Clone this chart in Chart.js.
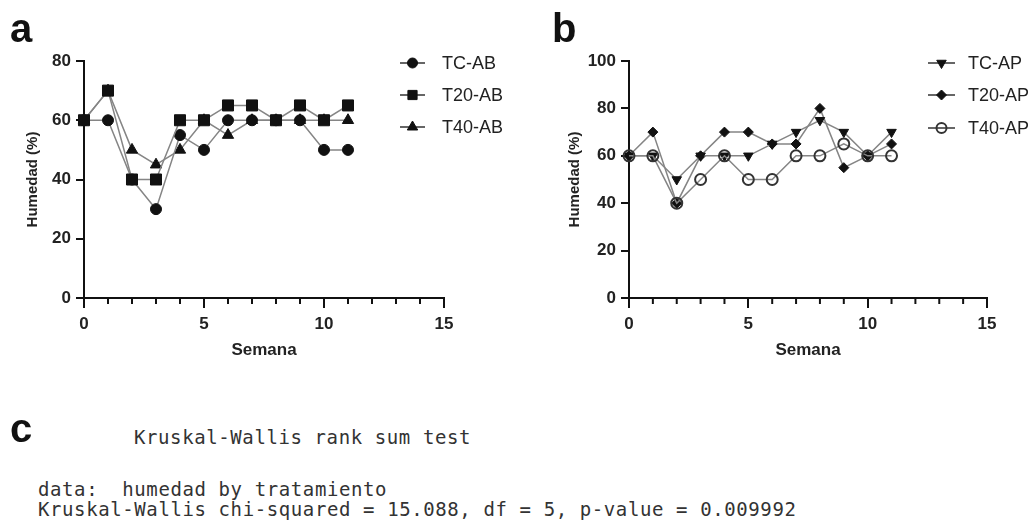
<!DOCTYPE html>
<html>
<head>
<meta charset="utf-8">
<script src="https://cdn.jsdelivr.net/npm/chart.js@4"></script>
<style>
  body { margin: 0; background: #fff; }
  #wrap { position: relative; width: 1034px; height: 521px; overflow: hidden; }
  canvas { position: absolute; top: 0; }
  .panel { position: absolute; font: bold 40px "Liberation Sans", Arial, sans-serif; line-height: 40px; color: #111; }
  .mono { position: absolute; font: 19px "DejaVu Sans Mono", monospace; line-height: 19px; letter-spacing: 0.6px; color: #333; white-space: pre; }
</style>
</head>
<body>
<div id="wrap">
  <canvas id="chartA" width="517" height="380" style="left:0"></canvas>
  <canvas id="chartB" width="517" height="380" style="left:517px"></canvas>
  <div class="panel" style="left:10px; top:8px">a</div>
  <div class="panel" style="left:552px; top:8px">b</div>
  <div class="panel" style="left:10px; top:408px">c</div>
  <div class="mono" style="left:134px; top:428px">Kruskal-Wallis rank sum test</div>
  <div class="mono" style="left:38px; top:480px">data:  humedad by tratamiento</div>
  <div class="mono" style="left:38px; top:500px">Kruskal-Wallis chi-squared = 15.088, df = 5, p-value = 0.009992</div>
</div>
<script>
// weeks (Semana)
const weeks = [0, 1, 2, 3, 4, 5, 6, 7, 8, 9, 10, 11];

// panel a: humedad (%) AB
const tcAB  = [60, 60, 40, 30, 55, 50, 60, 60, 60, 60, 50, 50];
const t20AB = [60, 70, 40, 40, 60, 60, 65, 65, 60, 65, 60, 65];
const t40AB = [60, 70, 50, 45, 50, 60, 55, 60, 60, 60, 60, 60];

// panel b: humedad (%) AP
const tcAP  = [60, 60, 50, 60, 60, 60, 65, 70, 75, 70, 60, 70];
const t20AP = [60, 70, 40, 60, 70, 70, 65, 65, 80, 55, 60, 65];
const t40AP = [60, 60, 40, 50, 60, 50, 50, 60, 60, 65, 60, 60];

const xTicksMajor = [0, 5, 10, 15];

Chart.defaults.font.family = '"Liberation Sans", Arial, sans-serif';
Chart.defaults.color = '#222';

const pts = vals => weeks.map((w, i) => ({ x: w, y: vals[i] }));

function series(label, vals, style, extra) {
  return Object.assign({
    label: label,
    data: pts(vals),
    showLine: true,
    borderColor: '#858585',
    borderWidth: 1.5,
    pointStyle: style,
    pointBackgroundColor: '#111',
    pointBorderColor: '#111',
    pointBorderWidth: 1,
    clip: false
  }, extra);
}

// legend with line + marker, like the original
const lineLegend = {
  id: 'lineLegend',
  afterDraw(chart, args, opts) {
    const ctx = chart.ctx;
    chart.data.datasets.forEach((ds, i) => {
      const y = opts.y[i];
      const cx = (opts.x0 + opts.x1) / 2;
      ctx.save();
      ctx.strokeStyle = '#333';
      ctx.lineWidth = 1.5;
      ctx.beginPath();
      ctx.moveTo(opts.x0, y);
      ctx.lineTo(opts.x1, y);
      ctx.stroke();
      ctx.fillStyle = ds.pointBackgroundColor;
      ctx.strokeStyle = ds.pointBorderColor;
      ctx.lineWidth = ds.pointBorderWidth;
      Chart.helpers.drawPoint(ctx, {
        pointStyle: ds.pointStyle,
        rotation: ds.pointRotation || 0,
        radius: ds.legendRadius,
        borderWidth: ds.pointBorderWidth
      }, cx, y);
      ctx.fillStyle = '#222';
      ctx.font = '18px "Liberation Sans", Arial, sans-serif';
      ctx.textBaseline = 'middle';
      ctx.fillText(ds.label, opts.tx, y + 1);
      ctx.restore();
    });
  }
};

// small ticks for each week between the labelled ones
const minorTicks = {
  id: 'minorTicks',
  afterDraw(chart) {
    const sx = chart.scales.x;
    const ctx = chart.ctx;
    const yb = chart.chartArea.bottom;
    ctx.save();
    ctx.strokeStyle = '#111';
    ctx.lineWidth = 2;
    for (let v = sx.min; v <= sx.max; v++) {
      if (xTicksMajor.includes(v)) continue;
      const px = sx.getPixelForValue(v);
      ctx.beginPath();
      ctx.moveTo(px, yb);
      ctx.lineTo(px, yb + 6);
      ctx.stroke();
    }
    ctx.restore();
  }
};

function makeOptions(yMax, padLeft, padRight, yWidth, legend) {
  return {
    responsive: false,
    animation: false,
    layout: { padding: { left: padLeft, top: 61, right: padRight, bottom: 0 } },
    plugins: { legend: { display: false }, tooltip: { enabled: false }, lineLegend: legend },
    scales: {
      x: {
        type: 'linear', min: 0, max: 15,
        afterFit: s => { s.height = 82; },
        border: { color: '#111', width: 2 },
        grid: {
          drawOnChartArea: false, lineWidth: 2, tickLength: 10,
          tickColor: c => xTicksMajor.includes(c.tick.value) ? '#111' : 'rgba(0,0,0,0)'
        },
        ticks: {
          stepSize: 1, padding: 6, maxRotation: 0, autoSkip: false,
          font: { size: 17, weight: 'bold' },
          callback: v => xTicksMajor.includes(v) ? v : ''
        },
        title: { display: true, text: 'Semana', font: { size: 17, weight: 'bold' }, padding: { top: 0, bottom: 19 } }
      },
      y: {
        min: 0, max: yMax,
        afterFit: s => { s.width = yWidth; },
        border: { color: '#111', width: 2 },
        grid: { drawOnChartArea: false, lineWidth: 2, tickLength: 8, color: '#111' },
        ticks: { stepSize: 20, padding: 5, font: { size: 17, weight: 'bold' } },
        title: { display: true, text: 'Humedad (%)', font: { size: 15, weight: 'bold' }, padding: { top: 24, bottom: 0 } }
      }
    }
  };
}

new Chart(document.getElementById('chartA'), {
  type: 'scatter',
  data: {
    datasets: [
      series('TC-AB', tcAB, 'circle', { pointRadius: 5.5, legendRadius: 5, order: 1 }),
      series('T20-AB', t20AB, 'rect', { pointRadius: 7.8, legendRadius: 6.5, order: 0 }),
      series('T40-AB', t40AB, 'triangle', { pointRadius: 6.5, legendRadius: 6, order: 2 })
    ]
  },
  options: makeOptions(80, 0, 73, 84, { x0: 400, x1: 425, tx: 442, y: [63, 95, 127] }),
  plugins: [lineLegend, minorTicks]
});

new Chart(document.getElementById('chartB'), {
  type: 'scatter',
  data: {
    datasets: [
      series('TC-AP', tcAP, 'triangle', { pointRadius: 5.5, pointRotation: 180, legendRadius: 5.5, order: 1 }),
      series('T20-AP', t20AP, 'rectRot', { pointRadius: 5, legendRadius: 5, order: 2 }),
      series('T40-AP', t40AP, 'circle', {
        pointRadius: 5.5, legendRadius: 5, order: 0,
        pointBackgroundColor: 'rgba(0,0,0,0)', pointBorderColor: '#333', pointBorderWidth: 2
      })
    ]
  },
  options: makeOptions(100, 25, 47, 87, { x0: 411, x1: 438, tx: 451, y: [63, 95, 128] }),
  plugins: [lineLegend, minorTicks]
});
</script>
</body>
</html>
